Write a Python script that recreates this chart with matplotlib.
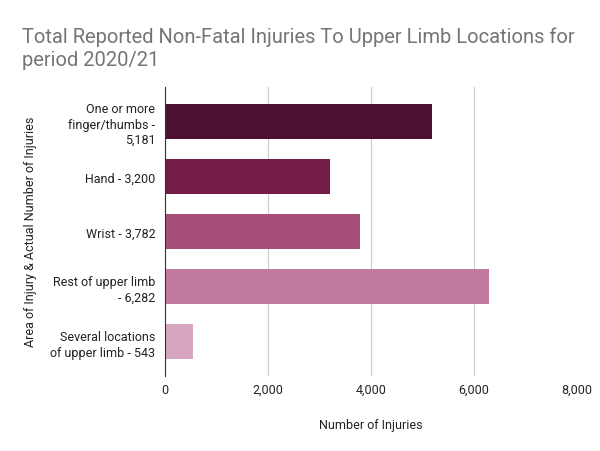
import matplotlib
matplotlib.use("Agg")
import matplotlib.pyplot as plt
from matplotlib.ticker import FuncFormatter

categories = ["One or more\nfinger/thumbs -\n5,181", "Hand - 3,200", "Wrist - 3,782",
              "Rest of upper limb\n- 6,282", "Several locations\nof upper limb - 543"]
values = [5181, 3200, 3782, 6282, 543]
colors = ["#4c1130", "#741b47", "#a64d79", "#c27ba0", "#d5a6bd"]
xticks = [0, 2000, 4000, 6000, 8000]

plt.rcParams['font.family'] = ['Roboto', 'DejaVu Sans']
fig = plt.figure(figsize=(6, 4.52), dpi=100)
ax = fig.add_axes([165/600, 1-377/452, (577-165)/600, (377-88)/452])

y = list(range(len(categories)))
ax.barh(y, values, height=0.636, color=colors, zorder=3)
ax.set_ylim(4.625, -0.625)
ax.set_xlim(0, 8000)
ax.set_xticks(xticks)
ax.xaxis.set_major_formatter(FuncFormatter(lambda v, p: f"{int(v):,}"))
ax.set_yticks(y)
ax.set_yticklabels(categories, fontsize=9, color="#222222", linespacing=1.25)
ax.tick_params(axis='both', length=0, pad=7)
ax.tick_params(axis='x', labelsize=9, labelcolor="#222222", pad=5)
ax.grid(axis='x', color="#cccccc", linewidth=0.8, zorder=0)
for s in ['top', 'right', 'bottom']:
    ax.spines[s].set_visible(False)
ax.spines['left'].set_color("#333333")
ax.spines['left'].set_zorder(4)

ax.set_xlabel("Number of Injuries", fontsize=9, color="#222222", labelpad=16)
fig.text(31/600, 1-232/452, "Area of Injury & Actual Number of Injuries", rotation=90,
         fontsize=9, color="#222222", ha='center', va='center')
fig.text(22/600, 1-27/452, "Total Reported Non-Fatal Injuries To Upper Limb Locations for\nperiod 2020/21",
         fontsize=14.5, color="#757575", ha='left', va='top', linespacing=1.3)

fig.savefig("out.png", dpi=100)
